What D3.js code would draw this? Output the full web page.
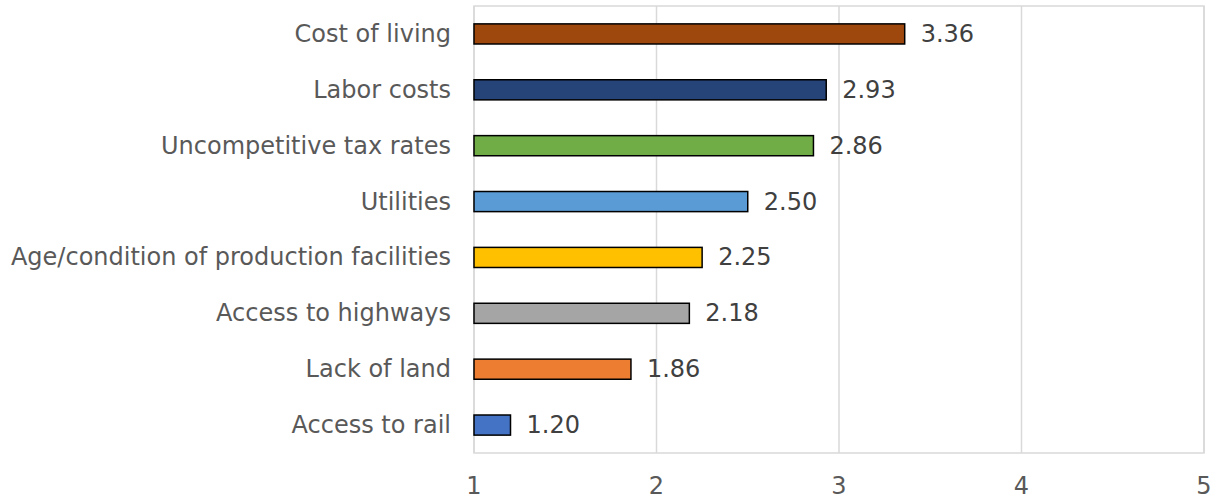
<!DOCTYPE html>
<html lang="en">
<head>
  <meta charset="UTF-8" />
  <title>Factors</title>
  <style>
    body { margin: 0; background: #fff; }
    svg { display: block; font-family: "DejaVu Sans", Verdana, sans-serif; }
  </style>
  <script src="https://d3js.org/d3.v7.min.js"></script>
</head>
<body>
<svg id="chart" width="1220" height="499"></svg>
<script>
  const categories = ['Cost of living', 'Labor costs', 'Uncompetitive tax rates', 'Utilities',
    'Age/condition of production facilities', 'Access to highways', 'Lack of land', 'Access to rail'];
  const values = [3.36, 2.93, 2.86, 2.50, 2.25, 2.18, 1.86, 1.20];
  const colors = ['#9E480E', '#264478', '#70AD47', '#5B9BD5', '#FFC000', '#A5A5A5', '#ED7D31', '#4472C4'];
  const ticks = [1, 2, 3, 4, 5];

  const svg = d3.select('#chart');
  const plotL = 474, plotR = 1204, plotT = 6, plotB = 453;

  const x = d3.scaleLinear().domain([1, 5]).range([plotL, plotR]);
  const y = d3.scaleBand().domain(categories).range([plotT, plotB])
    .paddingInner(0.64).paddingOuter(0.32);

  // gridlines
  svg.append('g').selectAll('line').data(ticks).join('line')
    .attr('x1', d => x(d)).attr('x2', d => x(d))
    .attr('y1', plotT).attr('y2', plotB)
    .attr('stroke', '#d9d9d9').attr('stroke-width', 1.5);

  // plot border
  svg.append('rect')
    .attr('x', plotL).attr('y', plotT)
    .attr('width', plotR - plotL).attr('height', plotB - plotT)
    .attr('fill', 'none').attr('stroke', '#d9d9d9').attr('stroke-width', 1.5);

  // x tick labels
  svg.append('g').selectAll('text').data(ticks).join('text')
    .attr('x', d => x(d)).attr('y', 486)
    .attr('text-anchor', 'middle').attr('dominant-baseline', 'central')
    .attr('fill', '#595959').attr('font-size', 24)
    .text(d => d);

  // category labels
  svg.append('g').selectAll('text').data(categories).join('text')
    .attr('x', plotL - 23).attr('y', d => y(d) + y.bandwidth() / 2)
    .attr('text-anchor', 'end').attr('dominant-baseline', 'central')
    .attr('fill', '#595959').attr('font-size', 24)
    .text(d => d);

  // bars
  svg.append('g').selectAll('rect').data(values).join('rect')
    .attr('x', x(1))
    .attr('y', (d, i) => y(categories[i]))
    .attr('width', d => x(d) - x(1))
    .attr('height', y.bandwidth())
    .attr('fill', (d, i) => colors[i])
    .attr('stroke', '#000').attr('stroke-width', 1.5);

  // value labels
  svg.append('g').selectAll('text').data(values).join('text')
    .attr('x', d => x(d) + 16)
    .attr('y', (d, i) => y(categories[i]) + y.bandwidth() / 2)
    .attr('dominant-baseline', 'central')
    .attr('fill', '#404040').attr('font-size', 24)
    .text(d => d.toFixed(2));
</script>
</body>
</html>
